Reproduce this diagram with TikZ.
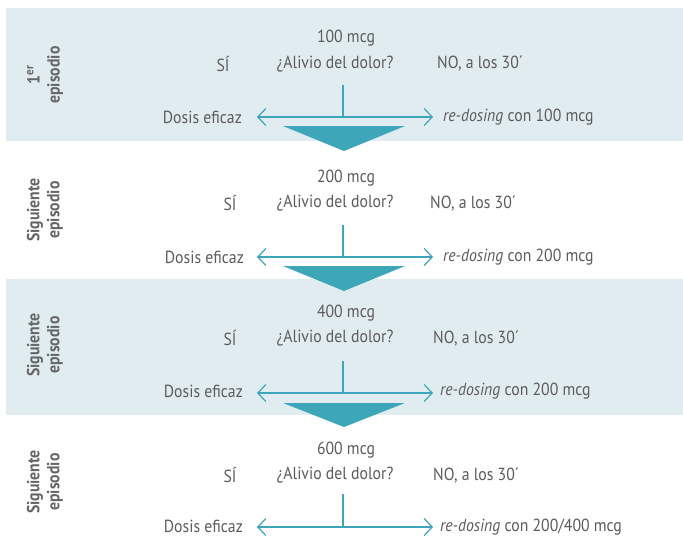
\documentclass[tikz,border=0pt]{standalone}
\usepackage{fontspec}
\setmainfont{PT Sans}[FakeStretch=0.9]
\usetikzlibrary{arrows.meta}
\definecolor{bandbg}{HTML}{E1ECF1}
\definecolor{teal}{HTML}{3DA7B9}
\definecolor{txt}{HTML}{5C5C5C}
\definecolor{lbl}{HTML}{666666}
\tikzset{
  band/.style={fill=bandbg, draw=none},
  tri/.style={fill=teal, draw=none},
  lab/.style={font=\fontsize{17.5}{20}\selectfont, text=txt, inner sep=0pt},
  side/.style={font=\bfseries\fontsize{17.5}{20}\selectfont, text=lbl, rotate=90, align=center, inner sep=0pt},
  conn/.style={draw=teal, line width=1.2pt},
  arr/.style={conn, -{Straight Barb[length=8pt,width=17pt,line width=1.2pt]}}
}
\begin{document}
\begin{tikzpicture}[x=1pt,y=-1pt]
\useasboundingbox (0,0) rectangle (683,536);
\fill[white] (0,0) rectangle (683,536);
\path[band] (6,8) rectangle (683,141);
\path[band] (6,279) rectangle (683,415);
% Band 1
\node[side] (s1) at (45,75) {1\textsuperscript{er}\\episodio};
\node[lab] (d1) at (346,38) {100 mcg};
\node[lab] (q1) at (335,64) {¿Alivio del dolor?};
\node[lab] (y1) at (223,64) {SÍ};
\node[lab, anchor=west] (n1) at (437,64) {NO, a los 30´};
\node[lab, anchor=east] (e1) at (242,117) {Dosis eficaz};
\node[lab, anchor=west] (r1) at (443,117) {\textit{re-dosing} con 100 mcg};
\coordinate (t1) at (343,85);
\coordinate (j1) at (343,117);
\draw[conn] (t1) -- (j1);
\draw[arr] (j1) -- (e1.east -| 257,0);
\draw[arr] (j1) -- (r1.west -| 433,0);
\path[tri] (283,126) -- (405,126) -- (344,151) -- cycle;
% Band 2
\node[side] (s2) at (45,210) {Siguiente\\episodio};
\node[lab] (d2) at (346,178) {200 mcg};
\node[lab] (q2) at (335,203) {¿Alivio del dolor?};
\node[lab] (y2) at (230,203) {SÍ};
\node[lab, anchor=west] (n2) at (430,203) {NO, a los 30´};
\node[lab, anchor=east] (e2) at (244,257) {Dosis eficaz};
\node[lab, anchor=west] (r2) at (443,257) {\textit{re-dosing} con 200 mcg};
\coordinate (t2) at (343,225);
\coordinate (j2) at (343,257);
\draw[conn] (t2) -- (j2);
\draw[arr] (j2) -- (e2.east -| 257,0);
\draw[arr] (j2) -- (r2.west -| 433,0);
\path[tri] (283,266) -- (405,266) -- (344,291) -- cycle;
% Band 3
\node[side] (s3) at (45,345) {Siguiente\\episodio};
\node[lab] (d3) at (346,313) {400 mcg};
\node[lab] (q3) at (335,338) {¿Alivio del dolor?};
\node[lab] (y3) at (230,338) {SÍ};
\node[lab, anchor=west] (n3) at (433,338) {NO, a los 30´};
\node[lab, anchor=east] (e3) at (243,391) {Dosis eficaz};
\node[lab, anchor=west] (r3) at (440,391) {\textit{re-dosing} con 200 mcg};
\coordinate (t3) at (343,361);
\coordinate (j3) at (343,393);
\draw[conn] (t3) -- (j3);
\draw[arr] (j3) -- (257,393);
\draw[arr] (j3) -- (433,393);
\path[tri] (283,403) -- (405,403) -- (344,427) -- cycle;
% Band 4
\node[side] (s4) at (45,482) {Siguiente\\episodio};
\node[lab] (d4) at (346,450) {600 mcg};
\node[lab] (q4) at (335,475) {¿Alivio del dolor?};
\node[lab] (y4) at (230,475) {SÍ};
\node[lab, anchor=west] (n4) at (433,475) {NO, a los 30´};
\node[lab, anchor=east] (e4) at (243,526) {Dosis eficaz};
\node[lab, anchor=west] (r4) at (440,527) {\textit{re-dosing} con 200/400 mcg};
\coordinate (t4) at (343,494);
\coordinate (j4) at (343,527);
\draw[conn] (t4) -- (j4);
\draw[arr] (j4) -- (257,527);
\draw[arr] (j4) -- (433,527);
\end{tikzpicture}
\end{document}
